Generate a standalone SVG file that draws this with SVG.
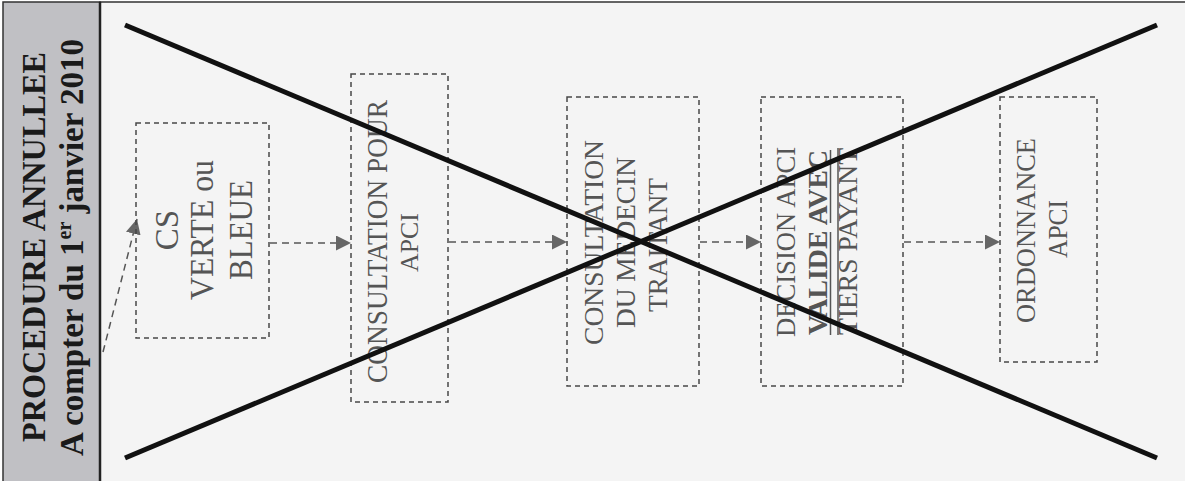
<svg xmlns="http://www.w3.org/2000/svg" width="1185" height="481" viewBox="0 0 1185 481">
<style>
.box{fill:none;stroke:#474747;stroke-width:1.5;stroke-dasharray:5,4}
.t{font-family:"Liberation Serif","Times New Roman",serif;fill:#555;text-anchor:middle}
.title{font-family:"Liberation Serif","Times New Roman",serif;font-weight:bold;fill:#1a1a1a;text-anchor:middle}
.conn{fill:none;stroke:#555;stroke-width:1.5;stroke-dasharray:7,5}
.deco{stroke:#555;stroke-width:1.5}
.strike{stroke:#111;stroke-width:5;stroke-linecap:butt}
</style>
<defs>
<marker id="arr" markerUnits="userSpaceOnUse" markerWidth="15" markerHeight="15" refX="15" refY="7.5" orient="auto">
<path d="M0,0 L15,7.5 L0,15 z" fill="#666"/>
</marker>
</defs>
<rect x="100" y="2" width="1090" height="485" fill="#f4f4f4" stroke="#333" stroke-width="1.5"/>
<g id="title-panel">
<rect x="3" y="2" width="97" height="485" fill="#c0c0c4" stroke="#333" stroke-width="1.5"/>
<line x1="100" y1="2" x2="100" y2="481" stroke="#222" stroke-width="2.5"/>
<text class="title" font-size="33" textLength="390" lengthAdjust="spacingAndGlyphs" transform="translate(45,247) rotate(-90)">PROCEDURE ANNULLEE</text>
<text class="title" font-size="33" transform="translate(83,247.5) rotate(-90)">A compter du 1<tspan font-size="20" dy="-12">er</tspan><tspan dy="12"> janvier 2010</tspan></text>
</g>
<g id="connectors">
<line class="conn" x1="103" y1="352" x2="137" y2="219" marker-end="url(#arr)"/>
<line class="conn" x1="270" y1="243" x2="351" y2="243" marker-end="url(#arr)"/>
<line class="conn" x1="449" y1="242" x2="567" y2="242" marker-end="url(#arr)"/>
<line class="conn" x1="700" y1="242" x2="761" y2="242" marker-end="url(#arr)"/>
<line class="conn" x1="904" y1="242" x2="1000" y2="242" marker-end="url(#arr)"/>
</g>
<g id="node-cs">
<rect class="box" x="136" y="123" width="133" height="215"/>
<text class="t" font-size="33" transform="translate(178,230) rotate(-90)">CS</text>
<text class="t" font-size="33" textLength="140" lengthAdjust="spacingAndGlyphs" transform="translate(213,230) rotate(-90)">VERTE ou</text>
<text class="t" font-size="33" textLength="100" lengthAdjust="spacingAndGlyphs" transform="translate(252,230) rotate(-90)">BLEUE</text>
</g>
<g id="node-consultation-apci">
<rect class="box" x="351" y="74" width="97" height="328"/>
<text class="t" font-size="29" textLength="283" lengthAdjust="spacingAndGlyphs" transform="translate(387,241.5) rotate(-90)">CONSULTATION POUR</text>
<text class="t" font-size="26" textLength="59" lengthAdjust="spacingAndGlyphs" transform="translate(418,242.5) rotate(-90)">APCI</text>
</g>
<g id="node-medecin">
<rect class="box" x="567" y="97" width="132" height="289"/>
<text class="t" font-size="27" textLength="205" lengthAdjust="spacingAndGlyphs" transform="translate(603,242.5) rotate(-90)">CONSULTATION</text>
<text class="t" font-size="27" textLength="171" lengthAdjust="spacingAndGlyphs" transform="translate(635,242.5) rotate(-90)">DU MEDECIN</text>
<text class="t" font-size="27" textLength="134" lengthAdjust="spacingAndGlyphs" transform="translate(667,245) rotate(-90)">TRAITANT</text>
</g>
<g id="node-decision">
<rect class="box" x="761" y="97" width="142" height="289"/>
<text class="t" font-size="27" textLength="190" lengthAdjust="spacingAndGlyphs" transform="translate(795,242) rotate(-90)">DECISION APCI</text>
<text class="t" font-size="27" font-weight="bold" textLength="185" lengthAdjust="spacingAndGlyphs" transform="translate(827,242.5) rotate(-90)">VALIDE AVEC</text>
<text class="t" font-size="27" textLength="187" lengthAdjust="spacingAndGlyphs" transform="translate(857,241.5) rotate(-90)">TIERS PAYANT</text>
<line class="deco" x1="830.5" y1="150" x2="830.5" y2="223"/>
<line class="deco" x1="830.5" y1="232" x2="830.5" y2="335"/>
<line class="deco" x1="838" y1="148" x2="838" y2="335"/>
</g>
<g id="node-ordonnance">
<rect class="box" x="1000" y="97" width="97" height="265"/>
<text class="t" font-size="27" textLength="185" lengthAdjust="spacingAndGlyphs" transform="translate(1035,230.5) rotate(-90)">ORDONNANCE</text>
<text class="t" font-size="27" textLength="58" lengthAdjust="spacingAndGlyphs" transform="translate(1067,229) rotate(-90)">APCI</text>
</g>
<g id="strike">
<line class="strike" x1="125" y1="25" x2="1157" y2="458"/>
<line class="strike" x1="125" y1="458" x2="1157" y2="25"/>
</g>
</svg>
